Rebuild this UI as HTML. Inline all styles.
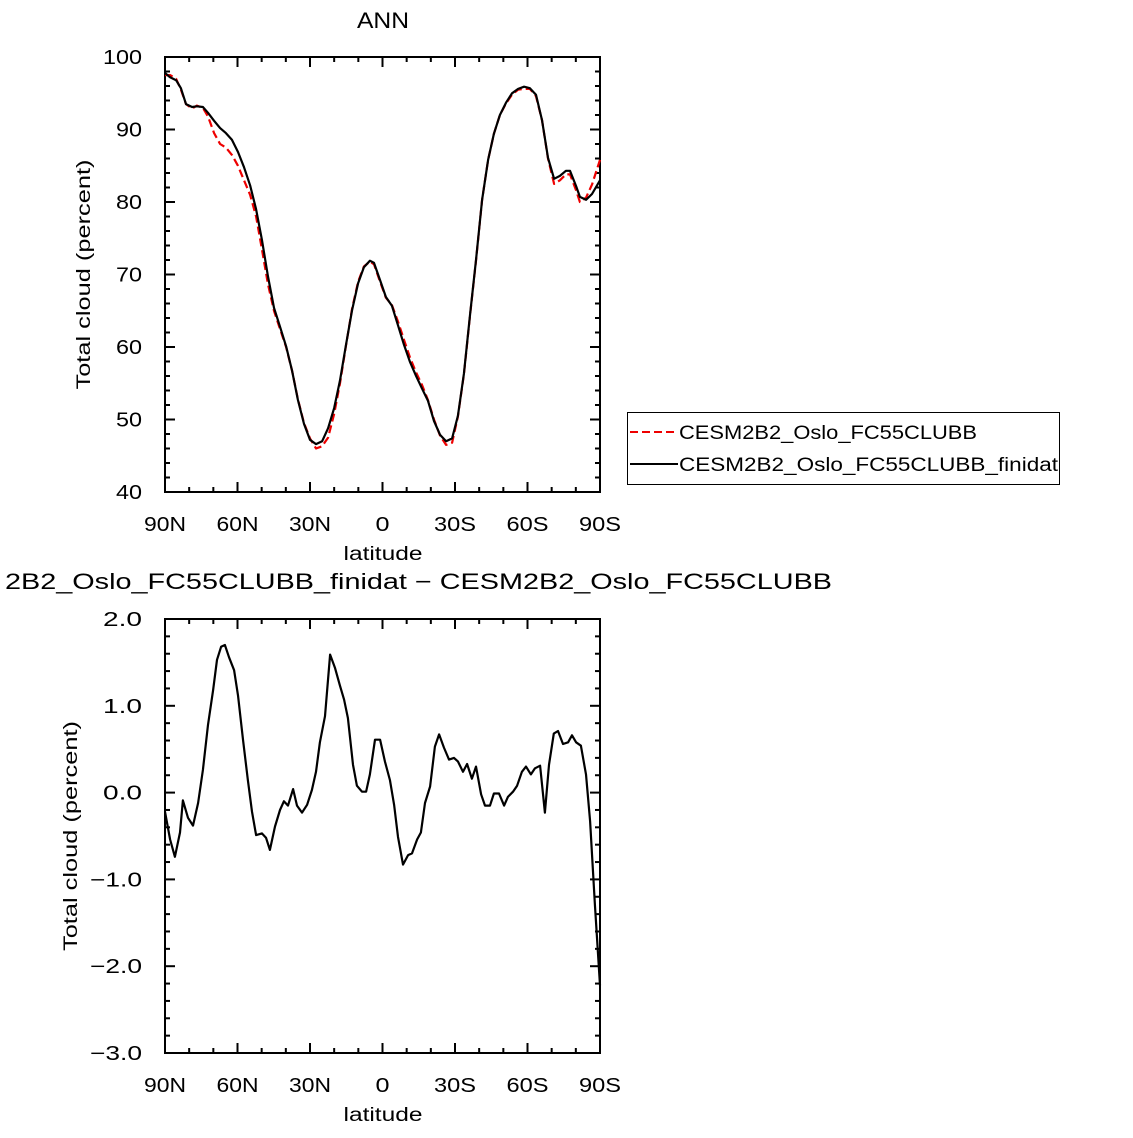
<!DOCTYPE html>
<html><head><meta charset="utf-8"><style>
html,body{margin:0;padding:0;background:#fff;}
svg text{font-family:"Liberation Sans","DejaVu Sans",sans-serif;fill:#000;}
</style></head><body>
<svg id="c" width="1133" height="1133" xmlns="http://www.w3.org/2000/svg">
<text x="383" y="28" font-size="22" text-anchor="middle" textLength="52" lengthAdjust="spacingAndGlyphs">ANN</text>
<text x="5" y="589" font-size="22" textLength="827" lengthAdjust="spacingAndGlyphs">2B2_Oslo_FC55CLUBB_finidat − CESM2B2_Oslo_FC55CLUBB</text>
<g>
<rect x="627.5" y="412.5" width="432" height="72" fill="none" stroke="#000" stroke-width="1"/>
<line x1="630" y1="432" x2="678" y2="432" stroke="#e00" stroke-width="2" stroke-dasharray="8,4"/>
<text x="679" y="439" font-size="19" textLength="298" lengthAdjust="spacingAndGlyphs">CESM2B2_Oslo_FC55CLUBB</text>
<line x1="630" y1="464" x2="678" y2="464" stroke="#000" stroke-width="2"/>
<text x="679" y="471" font-size="19" textLength="379" lengthAdjust="spacingAndGlyphs">CESM2B2_Oslo_FC55CLUBB_finidat</text>
</g>
</svg>
<script>
const topLats=[90,87.9,85.4,83.4,81.3,78.8,76.8,74.3,72.2,69.7,67.2,64.8,62.3,59.8,57.3,54.8,52.3,49.9,47.4,44.9,42.4,39.9,37.4,35.0,32.5,30.0,27.5,25.0,22.5,20.0,17.6,15.1,12.6,10.1,7.7,5.2,3.5,1.0,-1.4,-3.9,-6.4,-8.9,-11.4,-13.9,-16.3,-18.8,-21.3,-23.8,-26.3,-28.8,-31.2,-33.7,-36.2,-38.7,-41.2,-43.7,-46.1,-48.6,-51.1,-53.6,-56.1,-58.6,-61.0,-63.5,-66.0,-68.5,-71.0,-73.4,-75.9,-77.6,-80.1,-81.7,-84.2,-86.7,-90];
const finidatVals=[97.8,97.2,96.8,95.7,93.5,93.1,93.2,93.1,92.3,91.2,90.2,89.5,88.6,86.9,84.8,82.3,79.0,74.8,69.8,65.4,62.8,60.1,56.7,52.7,49.4,47.2,46.6,47.0,48.8,51.6,55.4,60.3,65.1,68.8,71.0,71.9,71.6,69.2,66.9,65.7,63.0,60.3,57.9,56.0,54.3,52.6,49.8,47.9,47.0,47.4,50.5,56.3,64.4,72.0,80.3,85.8,89.4,92.0,93.7,95.0,95.6,95.9,95.7,94.8,91.3,86.1,83.2,83.6,84.3,84.3,82.2,80.7,80.3,81.1,83.0];
const baseVals=[97.5,97.5,97.0,95.5,93.5,92.9,93.3,93.0,91.8,89.5,88.0,87.5,86.5,85.0,83.0,81.0,78.0,73.5,68.7,65.0,62.5,60.0,56.7,52.8,49.5,47.4,46.0,46.3,47.5,50.8,55.0,60.2,65.3,69.0,71.1,71.8,71.4,69.0,66.8,65.8,63.5,61.0,58.5,56.5,54.8,52.7,50.0,47.8,46.5,46.8,50.4,56.2,64.3,71.9,80.3,85.8,89.4,92.0,93.6,94.8,95.5,95.6,95.6,94.6,91.3,86.0,82.5,83.0,83.8,83.8,81.6,80.0,80.6,82.4,85.8];
const diffLats=[90,87.9,85.9,83.8,82.6,80.5,78.4,76.3,74.3,72.2,70.1,68.5,66.8,65.2,63.5,61.4,59.8,57.7,55.7,54.0,52.3,49.9,48.2,46.6,44.5,42.4,40.8,39.1,37.0,35.4,33.3,31.2,29.2,27.5,25.9,23.8,21.7,19.7,17.6,15.9,14.3,12.2,10.6,8.5,6.8,5.2,3.1,1.0,-1.0,-3.1,-4.8,-6.4,-8.5,-10.6,-12.2,-14.3,-15.9,-17.6,-19.7,-21.7,-23.4,-25.4,-27.5,-29.6,-31.2,-33.3,-35.0,-37.0,-38.7,-40.8,-42.4,-44.5,-46.1,-48.2,-50.3,-51.9,-54.0,-55.7,-57.7,-59.4,-61.4,-63.1,-65.2,-67.2,-68.9,-70.9,-72.6,-74.7,-76.8,-78.4,-80.1,-82.1,-84.2,-85.9,-87.9,-90];
const diffVals=[-0.22,-0.54,-0.74,-0.46,-0.09,-0.29,-0.38,-0.12,0.26,0.78,1.18,1.53,1.68,1.70,1.56,1.41,1.12,0.60,0.14,-0.22,-0.49,-0.47,-0.52,-0.66,-0.39,-0.20,-0.10,-0.15,0.04,-0.15,-0.23,-0.14,0.03,0.24,0.58,0.88,1.59,1.44,1.23,1.07,0.86,0.32,0.08,0.01,0.01,0.21,0.61,0.61,0.36,0.14,-0.14,-0.51,-0.83,-0.72,-0.70,-0.54,-0.46,-0.12,0.07,0.53,0.67,0.52,0.38,0.40,0.36,0.24,0.33,0.16,0.30,-0.02,-0.15,-0.15,-0.01,-0.01,-0.15,-0.05,0.01,0.08,0.24,0.30,0.21,0.28,0.31,-0.23,0.32,0.68,0.71,0.56,0.58,0.66,0.58,0.54,0.21,-0.33,-1.29,-2.22];
const xTickVals=[90,60,30,0,-30,-60,-90];
const xTickLabels=["90N","60N","30N","0","30S","60S","90S"];
const topYTicks=[40,50,60,70,80,90,100];
const botYTicks=[-3,-2,-1,0,1,2];
const botYLabels=["−3.0","−2.0","−1.0","0.0","1.0","2.0"];

const NS="http://www.w3.org/2000/svg",svg=document.getElementById('c');
function mk(t,a,p){const e=document.createElementNS(NS,t);for(const k in a)e.setAttribute(k,a[k]);(p||svg).appendChild(e);return e;}
const L=165,R=600;
const xs=lat=>L+(90-lat)/180*(R-L);
function panel(name,T,B,ymin,ymax,yMajor,yMinor,yT,yL,yTitleX){
  const g=mk('g',{});
  
  
  const ys=v=>B-(v-ymin)/(ymax-ymin)*(B-T);
  const tk={stroke:'#000','stroke-width':2};
  for(let lat=-90;lat<=90;lat+=10){const x=xs(lat),maj=(lat%30===0)?10:5;
    mk('line',Object.assign({x1:x,x2:x,y1:B,y2:B-maj},tk),g);mk('line',Object.assign({x1:x,x2:x,y1:T,y2:T+maj},tk),g);}
  const n=Math.round((ymax-ymin)/yMinor);
  for(let i=0;i<=n;i++){const v=ymin+i*yMinor,y=ys(v),r=Math.abs(v/yMajor-Math.round(v/yMajor))<1e-6,len=r?10:5;
    mk('line',Object.assign({x1:L,x2:L+len,y1:y,y2:y},tk),g);mk('line',Object.assign({x1:R,x2:R-len,y1:y,y2:y},tk),g);}
  mk('rect',{x:L,y:T,width:R-L,height:B-T,fill:'none',stroke:'#000','stroke-width':2},g);
  xTickVals.forEach((v,i)=>{const s=xTickLabels[i];const t=mk('text',{x:xs(v),y:B+39,'font-size':20,'text-anchor':'middle',textLength:s.length*14,lengthAdjust:'spacingAndGlyphs'},g);t.textContent=s;
    
    });
  yT.forEach((v,i)=>{const s=yL[i];const t=mk('text',{x:L-23,y:ys(v)+7,'font-size':20,'text-anchor':'end',textLength:s.length*13,lengthAdjust:'spacingAndGlyphs'},g);t.textContent=s;
    
    });
  const xt=mk('text',{x:383,y:B+68,'font-size':19,'text-anchor':'middle',textLength:79,lengthAdjust:'spacingAndGlyphs'},g);xt.textContent='latitude';
  
  
  const cy=(T+B)/2;
  const yt=mk('text',{x:yTitleX,y:cy,'font-size':19,'text-anchor':'middle',textLength:230,lengthAdjust:'spacingAndGlyphs',transform:`rotate(-90 ${yTitleX} ${cy})`},g);yt.textContent='Total cloud  (percent)';
  
  
  return ys;
}
const ys1=panel('top-panel',57,492,40,100,10,2,topYTicks,topYTicks.map(String),90);
const ys2=panel('bottom-panel',619,1053,-3,2,1,0.2,botYTicks,botYLabels,77);
function line(lats,vals,ys,col,dash,name){
  const d=lats.map((l,i)=>(i?'L':'M')+xs(l).toFixed(1)+','+ys(vals[i]).toFixed(1)).join('');
  const p=mk('path',{d:d,fill:'none',stroke:col,'stroke-width':2.2,'stroke-linejoin':'round'});
  if(dash)p.setAttribute('stroke-dasharray',dash);
  
  
}
line(topLats,baseVals,ys1,'#e00','8,4','series-base-line');
line(topLats,finidatVals,ys1,'#000',null,'series-finidat-line');
line(diffLats,diffVals,ys2,'#000',null,'difference-line');
</script>
</body></html>
